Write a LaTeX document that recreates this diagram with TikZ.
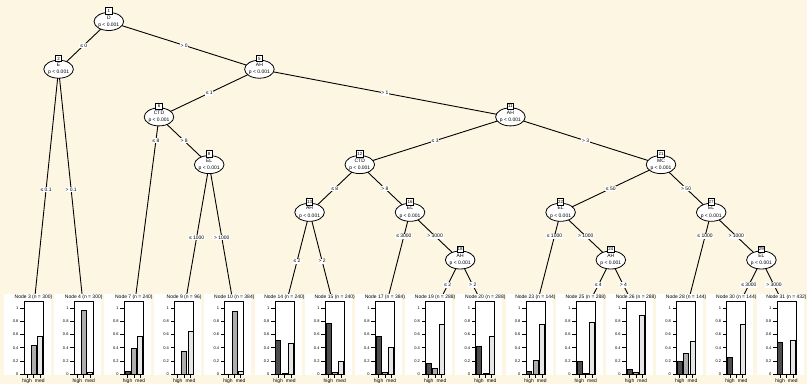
\documentclass[tikz,border=0pt]{standalone}
\usepackage{fontspec}
\setmainfont{Liberation Sans}
\usetikzlibrary{shapes.geometric}
\definecolor{bgc}{HTML}{FDF6E3}
\definecolor{barA}{HTML}{4D4D4D}
\definecolor{barB}{HTML}{AEAEAE}
\definecolor{barC}{HTML}{E6E6E6}
\pgfdeclarelayer{edges}
\pgfdeclarelayer{bglayer}
\pgfsetlayers{bglayer,edges,main}
\tikzset{
 innode/.style={ellipse, draw, fill=white, line width=0.8pt, minimum width=28bp, minimum height=18bp, inner sep=0pt, align=center, font=\fontsize{5}{6.8}\selectfont},
 idbox/.style={draw, fill=white, line width=0.8pt, minimum width=6.5bp, minimum height=6.5bp, inner sep=0.5bp, font=\fontsize{4.5}{5}\selectfont},
 elabel/.style={fill=white, inner sep=0.8bp, font=\fontsize{5}{6}\selectfont},
 edgeline/.style={line width=0.9pt},
 hdr/.style={font=\fontsize{5}{6}\selectfont, inner sep=0pt},
 ytl/.style={font=\fontsize{4}{5}\selectfont, inner sep=0pt, anchor=east},
 xtl/.style={font=\fontsize{5}{6}\selectfont, inner sep=0pt},
 plotbox/.style={line width=0.8pt},
 barline/.style={line width=0.6pt},
}
\newcommand\inode[4]{%
  \node[innode] (n#1) at (#2,#3) {#4\\[0.3bp]p < 0.001};
  \node[idbox, yshift=1.2bp] (id#1) at (n#1.north) {#1};}
\begin{document}
\begin{tikzpicture}[x=1bp,y=-1bp]
\begin{pgfonlayer}{bglayer}
\fill[bgc] (0,0) rectangle (807,384);
\end{pgfonlayer}
\useasboundingbox (0,0) rectangle (807,384);
% inner nodes
\inode{1}{108.8}{21.5}{D}
\inode{2}{58.6}{69.2}{E}
\inode{5}{259.4}{69.2}{AH}
\inode{6}{159.0}{116.9}{CTD}
\inode{8}{209.2}{164.6}{EL}
\inode{11}{510.4}{116.9}{AH}
\inode{12}{359.8}{164.6}{CTD}
\inode{13}{309.6}{212.3}{AH}
\inode{16}{410.0}{212.3}{EL}
\inode{18}{460.2}{260}{AH}
\inode{21}{661.0}{164.6}{MC}
\inode{22}{560.6}{212.3}{EL}
\inode{24}{610.8}{260}{AH}
\inode{27}{711.2}{212.3}{EL}
\inode{29}{761.4}{260}{EL}
% terminal panels
\foreach \k/\num/\nn/\ha/\hb/\hc in {
 0/3/300/0/0.43/0.57, 1/4/300/0/0.97/0.03, 2/7/240/0.04/0.39/0.57,
 3/9/96/0/0.35/0.65, 4/10/384/0/0.96/0.04, 5/14/240/0.52/0.01/0.47,
 6/15/240/0.77/0.03/0.20, 7/17/384/0.57/0.03/0.40, 8/19/288/0.17/0.08/0.75,
 9/20/288/0.42/0.01/0.57, 10/23/144/0.04/0.21/0.75, 11/25/288/0.20/0.01/0.79,
 12/26/288/0.07/0.03/0.90, 13/28/144/0.19/0.31/0.50, 14/30/144/0.25/0/0.75,
 15/31/432/0.49/0/0.51}{
  \pgfmathsetmacro\cx{33.5+50.2*\k}
  \coordinate (T\num) at (\cx,310);
  \fill[white] ({\cx-30},294) rectangle ({\cx+17},374.5);
  \node[hdr] (h\num) at (\cx,297.6) {Node \num\ (n = \nn)};
  \ifdim\ha pt>0pt \filldraw[barline,fill=barA] ({\cx-8.83},374) rectangle ({\cx-3.83},{374-65.7*\ha}); \fi
  \ifdim\hb pt>0pt \filldraw[barline,fill=barB] ({\cx-2.5},374) rectangle ({\cx+2.5},{374-65.7*\hb}); \fi
  \ifdim\hc pt>0pt \filldraw[barline,fill=barC] ({\cx+3.83},374) rectangle ({\cx+8.83},{374-65.7*\hc}); \fi
  \draw[plotbox] ({\cx-9.5},301) rectangle ({\cx+9.5},374);
  \foreach \v in {0,0.2,0.4,0.6,0.8,1}{
    \draw[line width=0.6pt] ({\cx-9.5},{374-65.7*\v}) -- ({\cx-13.5},{374-65.7*\v});
    \node[ytl] at ({\cx-15},{374-65.7*\v}) {\v};}
  \foreach \dx in {-6.33,0,6.33}{
    \draw[line width=0.6pt] ({\cx+\dx},374) -- ({\cx+\dx},377.5);}
  \node[xtl] (xl\num) at ({\cx-6.33},380.8) {high};
  \node[xtl] (xm\num) at ({\cx+6.33},380.8) {med};
}
% edges
\begin{pgfonlayer}{edges}
\foreach \pa/\ch/\t/\lab in {
 n1/n2/0.5/{≤ 0}, n1/n5/0.5/{> 0},
 n2/T3/0.5/{≤ 0.1}, n2/T4/0.5/{> 0.1},
 n5/n6/0.5/{≤ 1}, n5/n11/0.5/{> 1},
 n6/T7/0.1235/{≤ 8}, n6/n8/0.5/{> 8},
 n8/T9/0.5/{≤ 1000}, n8/T10/0.5/{> 1000},
 n11/n12/0.5/{≤ 3}, n11/n21/0.5/{> 3},
 n12/n13/0.5/{≤ 8}, n12/n16/0.5/{> 8},
 n13/T14/0.5/{≤ 2}, n13/T15/0.5/{> 2},
 n16/T17/0.244/{≤ 3000}, n16/n18/0.5/{> 3000},
 n18/T19/0.5/{≤ 2}, n18/T20/0.5/{> 2},
 n21/n22/0.5/{≤ 50}, n21/n27/0.5/{> 50},
 n22/T23/0.244/{≤ 1000}, n22/n24/0.5/{> 1000},
 n24/T25/0.5/{≤ 4}, n24/T26/0.5/{> 4},
 n27/T28/0.244/{≤ 1000}, n27/n29/0.5/{> 1000},
 n29/T30/0.5/{≤ 3000}, n29/T31/0.5/{> 3000}}{
  \draw[edgeline] (\pa.center) -- (\ch.center) node[elabel, pos=\t] {\lab};
}
\end{pgfonlayer}
\end{tikzpicture}
\end{document}
